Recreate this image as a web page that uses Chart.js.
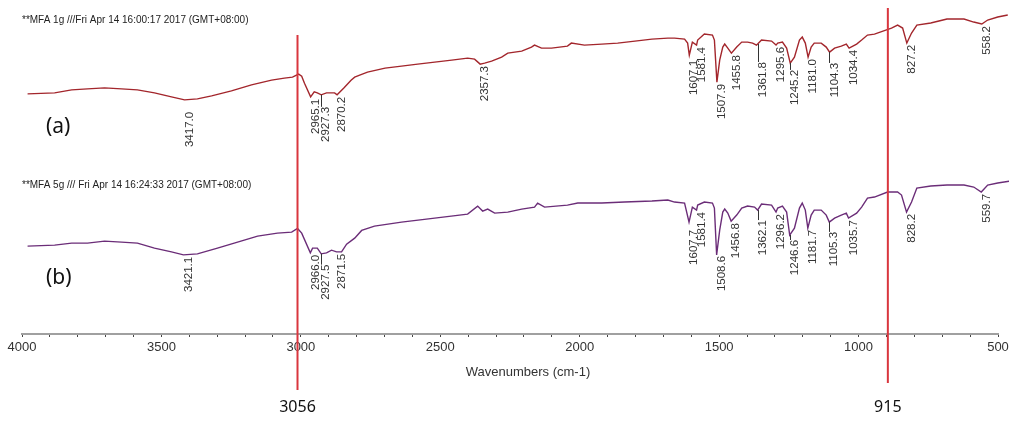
<!DOCTYPE html>
<html>
<head>
<meta charset="utf-8">
<script src="https://cdn.jsdelivr.net/npm/chart.js@4.4.1/dist/chart.umd.min.js"></script>
<style>
  html, body { margin: 0; padding: 0; background: #fff; }
  #wrap { width: 1009px; height: 423px; }
</style>
</head>
<body>
<div id="wrap"><canvas id="irChart" width="1009" height="423"></canvas></div>
<script>
// IR spectra, wavenumber (cm-1) vs relative transmittance (two traces stacked)
const waveA = [
  3980, 3883, 3822, 3765, 3704, 3643, 3586, 3525, 3464, 3417,
  3371, 3320, 3249, 3177, 3105, 3059, 3030, 3008, 2997, 2987,
  2965, 2952, 2941, 2927, 2908, 2890, 2879, 2870, 2845, 2820,
  2807, 2789, 2761, 2698, 2639, 2581, 2520, 2459, 2402, 2377,
  2357, 2341, 2316, 2280, 2258, 2208, 2173, 2162, 2137, 2101,
  2044, 2030, 1983, 1921, 1864, 1802, 1741, 1684, 1660, 1624,
  1613, 1607, 1596, 1581, 1577, 1553, 1524, 1517, 1508, 1498,
  1487, 1480, 1469, 1456, 1437, 1419, 1398, 1380, 1366, 1362,
  1348, 1312, 1296, 1290, 1273, 1258, 1245, 1230, 1212, 1202,
  1191, 1181, 1170, 1159, 1134, 1116, 1104, 1086, 1062, 1044,
  1034, 1007, 989, 968, 943, 882, 860, 842, 827, 810,
  791, 741, 683, 622, 587, 558, 537, 501, 465
];
const transA = [
  71.9, 72.2, 73.1, 73.4, 73.7, 73.4, 73.1, 72.2, 71.0, 70.1,
  70.4, 71.3, 72.8, 74.6, 76.0, 76.6, 76.9, 77.8, 77.2, 75.1,
  71.0, 72.5, 72.2, 71.6, 72.2, 72.2, 72.2, 71.6, 73.7, 76.0,
  76.9, 77.5, 78.4, 79.6, 80.2, 80.8, 81.4, 82.0, 82.6, 82.3,
  80.8, 81.1, 81.7, 82.9, 84.1, 84.7, 85.9, 86.5, 85.6, 85.6,
  86.2, 87.1, 86.5, 86.8, 87.1, 87.7, 88.3, 88.6, 88.6, 88.3,
  87.1, 83.5, 87.4, 86.5, 88.0, 89.8, 89.5, 88.0, 75.4, 82.0,
  85.9, 86.8, 85.6, 84.1, 85.9, 87.4, 87.4, 87.1, 86.5, 86.8,
  88.0, 87.7, 86.5, 87.1, 87.4, 85.6, 81.1, 82.9, 88.0, 88.9,
  87.1, 82.9, 85.9, 87.1, 87.1, 85.9, 84.4, 85.6, 86.2, 86.8,
  85.6, 86.8, 88.0, 89.5, 89.8, 91.6, 92.5, 91.6, 87.1, 90.1,
  92.5, 93.1, 94.3, 94.3, 93.4, 92.8, 94.0, 94.9, 95.5
];
const waveB = [
  3980, 3883, 3822, 3765, 3704, 3643, 3586, 3525, 3464, 3421,
  3371, 3299, 3227, 3155, 3084, 3033, 3012, 2997, 2966, 2958,
  2941, 2927, 2908, 2890, 2872, 2854, 2836, 2807, 2782, 2736,
  2639, 2520, 2402, 2366, 2348, 2330, 2305, 2258, 2208, 2162,
  2151, 2126, 2044, 2007, 1921, 1839, 1741, 1684, 1660, 1624,
  1608, 1596, 1581, 1577, 1553, 1524, 1517, 1509, 1498, 1487,
  1480, 1469, 1457, 1437, 1419, 1398, 1373, 1362, 1348, 1312,
  1296, 1290, 1273, 1258, 1247, 1230, 1212, 1202, 1191, 1182,
  1170, 1159, 1134, 1116, 1105, 1086, 1062, 1044, 1036, 1007,
  989, 968, 943, 896, 860, 846, 828, 810, 791, 741,
  683, 622, 587, 560, 537, 501, 455
];
const transB = [
  26.3, 26.6, 27.2, 27.2, 27.8, 27.5, 27.2, 25.7, 24.6, 23.7,
  24.0, 25.7, 27.5, 29.3, 30.2, 30.5, 31.6, 30.2, 24.3, 25.7,
  25.7, 24.0, 24.3, 25.1, 24.6, 24.6, 26.9, 28.7, 31.0, 32.3,
  33.5, 34.7, 35.9, 38.3, 36.8, 37.4, 36.2, 36.5, 37.4, 38.0,
  39.2, 38.0, 38.6, 39.2, 39.2, 39.5, 39.8, 40.1, 39.5, 39.2,
  33.5, 38.0, 37.1, 38.6, 39.5, 39.2, 37.7, 23.7, 31.1, 36.5,
  37.4, 36.2, 33.8, 35.6, 37.7, 38.3, 38.0, 37.1, 38.9, 38.6,
  36.5, 37.7, 38.3, 36.5, 29.6, 31.7, 37.7, 39.2, 37.1, 31.7,
  35.6, 37.1, 37.1, 35.6, 33.5, 34.7, 35.6, 36.2, 34.7, 36.2,
  38.0, 40.7, 41.0, 42.5, 42.5, 41.6, 36.5, 39.5, 43.7, 44.3,
  44.6, 44.6, 44.0, 42.5, 44.6, 45.2, 45.8
];

// picked peaks
const peaksA = [3417.0, 2965.1, 2927.3, 2870.2, 2357.3, 1607.1, 1581.4, 1507.9, 1455.8,
                1361.8, 1295.6, 1245.2, 1181.0, 1104.3, 1034.4, 827.2, 558.2];
const peaksB = [3421.1, 2966.0, 2927.5, 2871.5, 1607.7, 1581.4, 1508.6, 1456.8, 1362.1,
                1296.2, 1246.6, 1181.7, 1105.3, 1035.7, 828.2, 559.7];

// red reference lines
const markerWave = [3012, 895];
const markerText = ['3056', '915'];

const headerA = '**MFA 1g ///Fri Apr 14 16:00:17 2017 (GMT+08:00)';
const headerB = '**MFA 5g /// Fri Apr 14 16:24:33 2017 (GMT+08:00)';
const traceNames = ['(a)', '(b)'];

// label layout tweaks (px): extra gap, or leader line length
const tweaksA = { '3417.0': { gap: 10 }, '1607.1': { gap: 3 }, '2927.3': { lead: 12 },
                  '1361.8': { lead: 18 }, '1245.2': { lead: 7 }, '1104.3': { lead: 11 } };
const tweaksB = { '1607.7': { gap: 6 }, '2927.5': { lead: 11 }, '1362.1': { lead: 10 },
                  '1246.6': { lead: 5 }, '1105.3': { lead: 10 } };
const markerTop = [89.5, 97.6];
const markerBottom = [-16.8, -14.7];

function valueAt(waves, vals, w) {
  for (let i = 0; i < waves.length - 1; i++) {
    if (w <= waves[i] && w >= waves[i + 1]) {
      const t = (waves[i] - w) / (waves[i] - waves[i + 1]);
      return vals[i] + t * (vals[i + 1] - vals[i]);
    }
  }
  return vals[vals.length - 1];
}

function drawPeaks(ctx, x, y, waves, vals, peaks, tweaks) {
  ctx.font = '11.5px "Liberation Sans", Arial, sans-serif';
  ctx.fillStyle = '#333';
  ctx.strokeStyle = '#333';
  ctx.lineWidth = 1;
  peaks.forEach(p => {
    const label = p.toFixed(1);
    const px = x.getPixelForValue(p);
    const py = y.getPixelForValue(valueAt(waves, vals, p));
    const tw = tweaks[label] || {};
    let top = py + 2 + (tw.gap || 0);
    if (tw.lead) {
      const lx = Math.round(px) + 0.5;
      ctx.beginPath();
      ctx.moveTo(lx, py);
      ctx.lineTo(lx, py + tw.lead);
      ctx.stroke();
      top = py + tw.lead;
    }
    ctx.save();
    ctx.translate(px + 5, top);
    ctx.rotate(-Math.PI / 2);
    ctx.textAlign = 'right';
    ctx.textBaseline = 'middle';
    ctx.fillText(label, 0, 0);
    ctx.restore();
  });
}

const annotations = {
  id: 'annotations',
  afterDatasetsDraw(chart) {
    const { ctx, scales: { x, y } } = chart;
    ctx.save();

    drawPeaks(ctx, x, y, waveA, transA, peaksA, tweaksA);
    drawPeaks(ctx, x, y, waveB, transB, peaksB, tweaksB);

    // file headers
    ctx.font = '10px "Liberation Sans", Arial, sans-serif';
    ctx.fillStyle = '#222';
    ctx.textAlign = 'left';
    ctx.textBaseline = 'middle';
    ctx.fillText(headerA, 22, 20);
    ctx.fillText(headerB, 22, 185);

    // (a) / (b)
    ctx.font = '21px "Noto Sans", sans-serif';
    ctx.fillStyle = '#111';
    ctx.fillText(traceNames[0], 46, 127);
    ctx.fillText(traceNames[1], 46, 278);

    // axis title
    ctx.font = '13px "Liberation Sans", Arial, sans-serif';
    ctx.fillStyle = '#333';
    ctx.textAlign = 'center';
    ctx.fillText('Wavenumbers (cm-1)', 528, 372);

    // red lines + their numbers
    ctx.strokeStyle = '#d9363e';
    ctx.lineWidth = 2;
    ctx.font = '16px "Noto Sans", sans-serif';
    ctx.fillStyle = '#111';
    markerWave.forEach((w, i) => {
      const px = x.getPixelForValue(w);
      const yb = y.getPixelForValue(markerBottom[i]);
      ctx.beginPath();
      ctx.moveTo(px, y.getPixelForValue(markerTop[i]));
      ctx.lineTo(px, yb);
      ctx.stroke();
      ctx.fillText(markerText[i], px, 407);
    });
    ctx.restore();
  }
};

const toPoints = (w, v) => w.map((wn, i) => ({ x: wn, y: v[i] }));

new Chart(document.getElementById('irChart').getContext('2d'), {
  type: 'line',
  data: {
    datasets: [
      {
        label: 'MFA 1g',
        data: toPoints(waveA, transA),
        borderColor: '#a3262c',
        borderWidth: 1.4,
        pointRadius: 0,
        tension: 0,
        clip: false
      },
      {
        label: 'MFA 5g',
        data: toPoints(waveB, transB),
        borderColor: '#6b2d78',
        borderWidth: 1.4,
        pointRadius: 0,
        tension: 0,
        clip: false
      }
    ]
  },
  options: {
    responsive: false,
    animation: false,
    layout: { padding: { left: 22, right: 11, top: 0, bottom: 0 } },
    plugins: {
      legend: { display: false },
      tooltip: { enabled: false }
    },
    scales: {
      x: {
        type: 'linear',
        reverse: true,
        min: 500,
        max: 4000,
        afterFit: s => { s.height = 89; s.paddingLeft = 0; s.paddingRight = 0; },
        border: { display: true, color: '#a0a0a0', width: 2 },
        grid: { drawOnChartArea: false, drawTicks: true, tickLength: 3, tickColor: '#444', tickWidth: 1 },
        ticks: {
          stepSize: 100,
          autoSkip: false,
          maxRotation: 0,
          padding: 3,
          color: '#333',
          font: { family: '"Liberation Sans", Arial, sans-serif', size: 13 },
          callback: v => (v % 500 === 0 ? v : '')
        }
      },
      y: {
        display: false,
        min: 0,
        max: 100
      }
    }
  },
  plugins: [annotations]
});
</script>
</body>
</html>
